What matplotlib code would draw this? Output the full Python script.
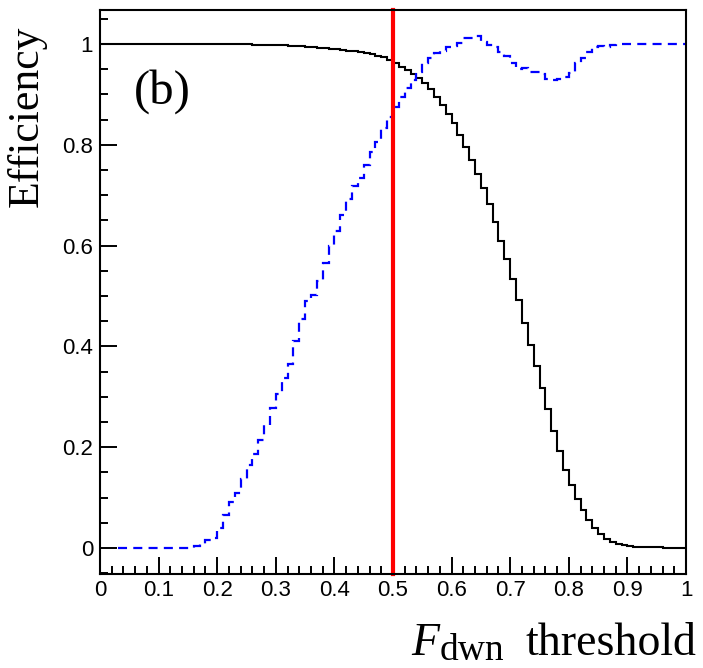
import numpy as np
import matplotlib
matplotlib.use('Agg')
import matplotlib.pyplot as plt
from matplotlib.ticker import MultipleLocator, FixedLocator, FixedFormatter

# ---------------- data ----------------
bin_width = 0.01
black_start = 0.00
black_eff = ([1.0] * 26 + [0.999] * 5 + [0.998, 0.997, 0.997, 0.996] +
             [0.995, 0.994, 0.993, 0.992, 0.991, 0.990, 0.989, 0.987, 0.986, 0.984,
              0.982, 0.980, 0.977, 0.974, 0.969] +
             [0.962, 0.955, 0.948, 0.940, 0.932, 0.922, 0.910, 0.895, 0.879, 0.861,
              0.843, 0.819, 0.796, 0.770, 0.743, 0.714, 0.683, 0.647, 0.610, 0.573,
              0.533, 0.492, 0.447, 0.403, 0.362, 0.317, 0.275, 0.232, 0.192, 0.155,
              0.125, 0.098, 0.075, 0.056, 0.040, 0.028, 0.017, 0.011, 0.007, 0.005,
              0.003, 0.002, 0.002, 0.001, 0.001, 0.001, 0.0005, 0.0003, 0.0002, 0.0001])

blue_start = 0.03
blue_eff = ([0.0] * 13 +
            [0.004, 0.008, 0.015, 0.020, 0.040, 0.065, 0.092, 0.110, 0.137, 0.165,
             0.186, 0.215, 0.245, 0.277] +
            [0.305, 0.337, 0.366, 0.410, 0.455, 0.491, 0.502, 0.530, 0.565, 0.600] +
            [0.628, 0.660, 0.693, 0.718, 0.735, 0.759, 0.785, 0.806, 0.834, 0.856] +
            [0.875, 0.895, 0.912, 0.929, 0.944, 0.963, 0.972, 0.982, 0.986, 0.995] +
            [0.997, 1.003, 1.012, 1.012, 1.015, 1.004, 0.998, 0.995, 0.985, 0.976] +
            [0.963, 0.950, 0.953, 0.945, 0.945, 0.940, 0.931, 0.928, 0.930, 0.935] +
            [0.943, 0.962, 0.973, 0.985, 0.995, 0.996, 0.995, 0.998, 1.000, 1.000] +
            [1.0] * 10)

threshold_cut = 0.5

x_ticks = [0, 0.1, 0.2, 0.3, 0.4, 0.5, 0.6, 0.7, 0.8, 0.9, 1.0]
x_ticklabels = ['0', '0.1', '0.2', '0.3', '0.4', '0.5', '0.6', '0.7', '0.8', '0.9', '1']
y_ticks = [0, 0.2, 0.4, 0.6, 0.8, 1.0]
y_ticklabels = ['0', '0.2', '0.4', '0.6', '0.8', '1']

# ---------------- style ----------------
plt.rcParams['lines.scale_dashes'] = False

W, H = 703, 668
fig = plt.figure(figsize=(W / 100, H / 100), dpi=100)
ax = fig.add_axes([100 / W, 1 - 574 / H, (686 - 100) / W, (574 - 10) / H])

black_edges = black_start + bin_width * np.arange(len(black_eff) + 1)
blue_edges = blue_start + bin_width * np.arange(len(blue_eff) + 1)

ax.stairs(black_eff, black_edges, baseline=None, color='black', linewidth=1.5)
ax.stairs(blue_eff, blue_edges, baseline=None, color='#0000ff', linewidth=1.6,
          linestyle=(0, (6.5, 4.5)))
ax.axvline(threshold_cut, color='#ff0000', linewidth=3.0, clip_on=False)

ax.set_xlim(0, 1)
ax.set_ylim(-0.0516, 1.0675)

ax.xaxis.set_major_locator(FixedLocator(x_ticks))
ax.xaxis.set_major_formatter(FixedFormatter(x_ticklabels))
ax.xaxis.set_minor_locator(MultipleLocator(0.02))
ax.yaxis.set_major_locator(FixedLocator(y_ticks))
ax.yaxis.set_major_formatter(FixedFormatter(y_ticklabels))
ax.yaxis.set_minor_locator(MultipleLocator(0.05))

ax.tick_params(which='both', direction='in', top=False, right=False, width=1.4,
               labelsize=16, labelfontfamily='Liberation Sans', color='black')
ax.tick_params(which='major', length=12.5)
ax.tick_params(which='minor', length=5.8)
ax.tick_params(axis='x', pad=4)
ax.tick_params(axis='y', pad=5)
for sp in ax.spines.values():
    sp.set_linewidth(1.5)

fig.text(27 / W, 1 - 26 / H, 'Efficiency', rotation=90, ha='center', va='top',
         family='Liberation Serif', fontsize=31.5)

# x-axis title: F (italic) + subscript "dwn" + "threshold"
fig.text(696 / W, 1 - 655 / H, 'threshold', ha='right', va='baseline',
         family='Liberation Serif', fontsize=33)
fig.text(504 / W, 1 - 660 / H, 'dwn', ha='right', va='baseline',
         family='Liberation Serif', fontsize=27)
fig.text(411 / W, 1 - 655 / H, 'F', ha='left', va='baseline',
         family='Liberation Serif', style='italic', fontsize=33)

fig.text(134 / W, 1 - 104 / H, '(b)', ha='left', va='baseline',
         family='Liberation Serif', fontsize=35)

fig.savefig('out.png', dpi=100)
